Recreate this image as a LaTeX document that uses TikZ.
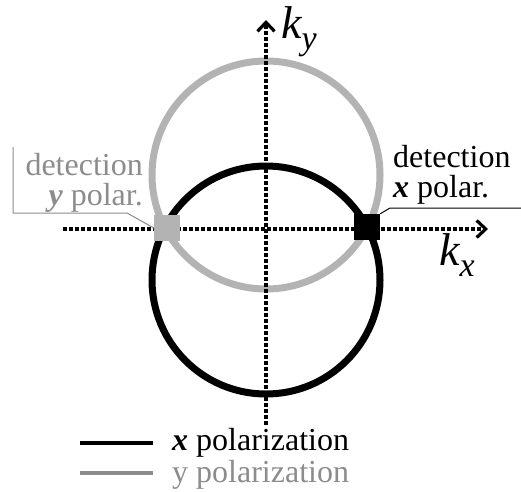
\documentclass[tikz,border=0pt]{standalone}
\usepackage{fontspec}
\setmainfont{Liberation Serif}
\definecolor{ringgray}{RGB}{179, 179, 179}
\definecolor{textgray}{RGB}{140, 140, 140}
\usetikzlibrary{arrows.meta,positioning}

\tikzset{
  axis/.style   = {line width=3.6pt, dash pattern=on 3.6pt off 2.4pt,
                   -{Straight Barb[length=9pt, width=17pt, line width=3.2pt]}},
  ring/.style   = {line width=7pt},
  detbox/.style = {minimum size=26pt, inner sep=0pt},
  label/.style  = {inner sep=0pt, font=\fontsize{32}{30}\selectfont},
  callout/.style= {line width=1pt}
}

\begin{document}
\begin{tikzpicture}[x=1pt, y=-1pt]
  \useasboundingbox (0,0) rectangle (521,491);

  % rings for both polarizations
  \draw[ring, ringgray] (266,175) circle[radius=114pt];
  \draw[ring, black]    (266,280) circle[radius=114pt];

  % axes
  \coordinate (xstart) at (63,229);
  \coordinate (xend)   at (488,229);
  \coordinate (ystart) at (266,425);
  \coordinate (yend)   at (266,20);
  \draw[axis] (xstart) -- (xend);
  \draw[axis] (ystart) -- (yend);

  \node[inner sep=0pt, anchor=base west,
        font=\fontsize{46}{46}\selectfont\itshape] (ky) at (281,38)
    {k\raisebox{-11pt}{\fontsize{34}{34}\selectfont y}};
  \node[inner sep=0pt, anchor=base west,
        font=\fontsize{46}{46}\selectfont\itshape] (kx) at (439,265)
    {k\raisebox{-11pt}{\fontsize{34}{34}\selectfont x}};

  % detection points
  \node[detbox, fill=ringgray] (dety) at (167,228) {};
  \node[detbox, fill=black]    (detx) at (367,227) {};

  % callouts
  \node[label, text=textgray, align=right, anchor=base east] (laby) at (143,205)
    {detection\\\textbf{\textit{y}} polar.};
  \node[label, align=left, anchor=base west] (labx) at (393,197)
    {detection\\\textbf{\textit{x}} polar.};

  \coordinate (cy1) at (13,147);
  \coordinate (cy2) at (13,213);
  \coordinate (cy3) at (127,213);
  \draw[callout, textgray] (cy1) -- (cy2) -- (cy3) -- (dety.west);

  \coordinate (cx1) at (390,208);
  \coordinate (cx2) at (521,208);
  \draw[callout] (detx.north east) -- (cx1) -- (cx2);

  % legend
  \coordinate (lx1) at (80,443);
  \coordinate (lx2) at (153,443);
  \coordinate (ly1) at (80,473);
  \coordinate (ly2) at (153,473);
  \draw[line width=4pt, black]    (lx1) -- (lx2);
  \draw[line width=4pt, textgray] (ly1) -- (ly2);
  \node[label, anchor=base west] (legx) at (172,450)
    {\textbf{\textit{x}} polarization};
  \node[label, text=textgray, anchor=base west] (legy) at (172,482)
    {y polarization};
\end{tikzpicture}
\end{document}
